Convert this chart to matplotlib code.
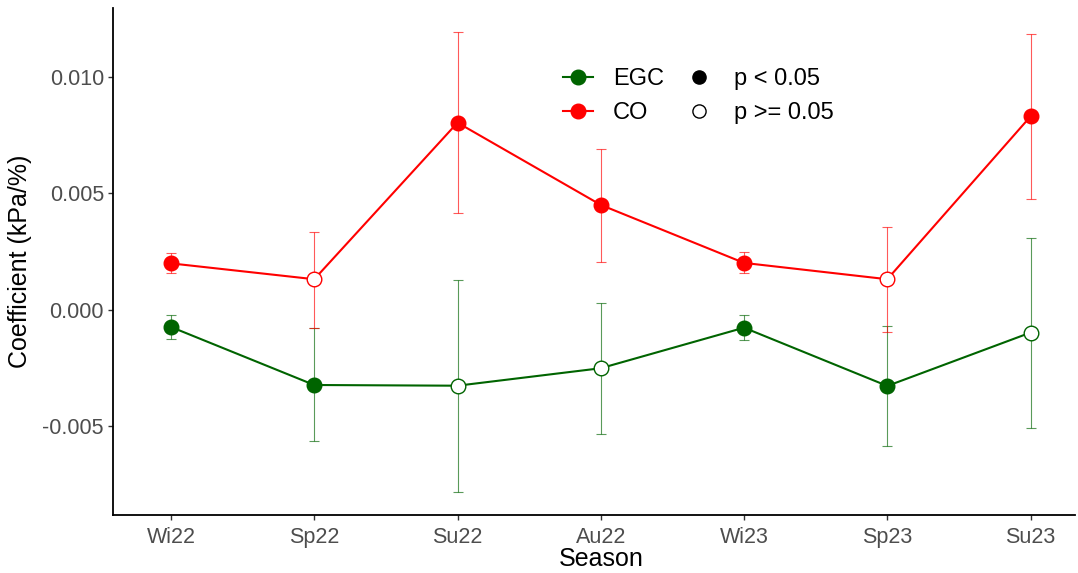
import matplotlib
matplotlib.use("Agg")
import matplotlib.pyplot as plt
from matplotlib.lines import Line2D
import numpy as np

plt.rcParams['font.family'] = ['Liberation Sans', 'DejaVu Sans']

seasons = ['Wi22', 'Sp22', 'Su22', 'Au22', 'Wi23', 'Sp23', 'Su23']

# coefficient estimates with lower / upper confidence limits
egc_coef = [-0.00073, -0.00322, -0.00325, -0.00250, -0.00076, -0.00326, -0.00097]
egc_lo   = [-0.00124, -0.00562, -0.00780, -0.00534, -0.00129, -0.00584, -0.00505]
egc_hi   = [-0.00021, -0.00079,  0.00129,  0.00031, -0.00023, -0.00067,  0.00308]
egc_sig  = [True, True, False, False, True, True, False]

co_coef = [0.00200, 0.00132, 0.00804, 0.00451, 0.00202, 0.00132, 0.00831]
co_lo   = [0.00157, -0.00079, 0.00418, 0.00207, 0.00157, -0.00093, 0.00476]
co_hi   = [0.00243, 0.00336, 0.01192, 0.00691, 0.00249, 0.00358, 0.01186]
co_sig  = [True, False, True, True, True, False, True]

groups = [('EGC', '#006400', egc_coef, egc_lo, egc_hi, egc_sig),
          ('CO', '#FF0000', co_coef, co_lo, co_hi, co_sig)]

fig = plt.figure(figsize=(10.78, 5.73), dpi=100)
ax = fig.add_axes([0.1048, 0.1012, 0.8924, 0.8848])

x = np.arange(len(seasons))
for name, col, coef, lo, hi, sig in groups:
    coef, lo, hi = np.array(coef), np.array(lo), np.array(hi)
    ax.errorbar(x, coef, yerr=[coef - lo, hi - coef], fmt='none', ecolor=col,
                elinewidth=0.8, capsize=3.5, capthick=0.8, alpha=0.65, zorder=2)
    ax.plot(x, coef, color=col, lw=1.5, zorder=3)
    for xi, yi, s in zip(x, coef, sig):
        ax.plot(xi, yi, 'o', ms=10.5, mfc=col if s else 'white',
                mec=col, mew=1.0, zorder=4)

ax.set_xlim(-0.405, 6.31)
ax.set_ylim(-0.0088, 0.01296)
ax.set_xticks(x)
ax.set_xticklabels(seasons)
ax.set_yticks([-0.005, 0.0, 0.005, 0.010])
ax.set_yticklabels(['-0.005', '0.000', '0.005', '0.010'])
ax.tick_params(axis='both', labelsize=15.5, labelcolor='#4D4D4D', color='#333333',
               length=3.5, width=1, pad=3)
ax.tick_params(axis='x', pad=5)
for side in ['top', 'right']:
    ax.spines[side].set_visible(False)
for side in ['left', 'bottom']:
    ax.spines[side].set_linewidth(1.3)
    ax.spines[side].set_color('black')

fig.text(20 / 1078, 1 - 261.5 / 573, 'Coefficient (kPa/%)', rotation=90,
         ha='center', va='center', fontsize=18)
fig.text(601 / 1078, 1 - 559 / 573, 'Season', ha='center', va='center', fontsize=18)

handles = [
    Line2D([], [], color='#006400', lw=1.5, marker='o', ms=10.5, mfc='#006400', mec='#006400'),
    Line2D([], [], color='#FF0000', lw=1.5, marker='o', ms=10.5, mfc='#FF0000', mec='#FF0000'),
    Line2D([], [], ls='none', marker='o', ms=9.5, mfc='black', mec='black'),
    Line2D([], [], ls='none', marker='o', ms=9.5, mfc='white', mec='black', mew=1.0),
]
labels = ['EGC', 'CO', 'p < 0.05', 'p >= 0.05']
ax.legend(handles, labels, ncol=2, loc='upper left',
          bbox_to_anchor=(563 / 1078, 1 - 68 / 573), bbox_transform=fig.transFigure,
          frameon=False, fontsize=17, handlelength=1.27, handletextpad=0.85,
          columnspacing=0.85, labelspacing=0.5, borderaxespad=0, borderpad=0)

fig.savefig('out.png', dpi=100)
